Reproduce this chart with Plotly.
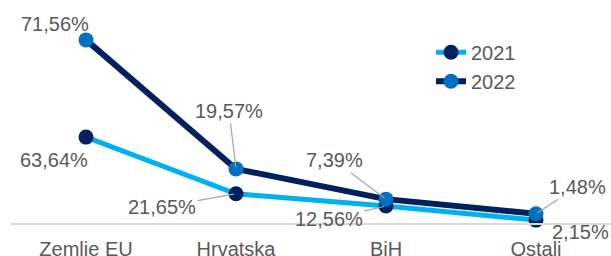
import plotly.graph_objects as go

categories = ["Zemlje EU", "Hrvatska", "BiH", "Ostali"]
values_2021 = [63.64, 21.65, 12.56, 2.15]
values_2022 = [71.56, 19.57, 7.39, 1.48]
series_names = ["2021", "2022"]


def pct(v):
    return f"{v:.2f}".replace(".", ",") + "%"


TEXT = "#595959"
FONT = "Liberation Sans, Arial, sans-serif"
LIGHT = "#00B0F0"
NAVY = "#002060"
MID = "#0070C0"
LEADER = "#A6A6A6"

fig = go.Figure()
fig.add_trace(go.Scatter(
    x=categories, y=values_2021, name=series_names[0], mode="lines+markers",
    line=dict(color=LIGHT, width=5), marker=dict(color=NAVY, size=15),
    yaxis="y", cliponaxis=False,
))
fig.add_trace(go.Scatter(
    x=categories, y=values_2022, name=series_names[1], mode="lines+markers",
    line=dict(color=NAVY, width=6), marker=dict(color=MID, size=15),
    yaxis="y2", cliponaxis=False,
))

# label placement: (dx, dy) screen-pixel offset of label centre from the point
style_2021 = [(-32, 23, False), (-74, 13, True), (-57, 13, True), (44, 12, False)]
style_2022 = [(-31, -16, False), (-7, -58, True), (-52, -39, True), (41, -27, True)]

annotations = []
for values, styles, yref in ((values_2021, style_2021, "y"), (values_2022, style_2022, "y2")):
    for cat, v, (dx, dy, leader) in zip(categories, values, styles):
        a = dict(x=cat, y=v, xref="x", yref=yref, text=pct(v),
                 font=dict(family=FONT, size=20, color=TEXT))
        if leader:
            a.update(showarrow=True, arrowhead=0, arrowwidth=1.2,
                     arrowcolor=LEADER, ax=dx, ay=dy, standoff=2)
        else:
            a.update(showarrow=False, xshift=dx, yshift=-dy)
        annotations.append(a)

fig.update_layout(
    width=611, height=256,
    margin=dict(l=11, r=0, t=10, b=33, autoexpand=False),
    paper_bgcolor="white", plot_bgcolor="white",
    font=dict(family=FONT, size=20, color=TEXT),
    showlegend=True,
    legend=dict(x=0.70, y=0.893, xanchor="left", yanchor="top",
                font=dict(family=FONT, size=20, color=TEXT),
                bgcolor="rgba(0,0,0,0)", tracegroupgap=0, itemwidth=30),
    xaxis=dict(type="category", range=[-0.5, 3.5], showgrid=False, zeroline=False,
               showline=True, linecolor="#D9D9D9", linewidth=2,
               ticks="", ticklabelstandoff=7, automargin=False,
               tickfont=dict(family=FONT, size=20, color=TEXT)),
    yaxis=dict(range=[0, 157.8], visible=False, showgrid=False, zeroline=False),
    yaxis2=dict(range=[-2.22, 83.6], visible=False, showgrid=False, zeroline=False,
                overlaying="y", side="right"),
    annotations=annotations,
)

fig.write_html("out.html", config={"displayModeBar": False},
               post_script="document.body.style.margin='0';")
